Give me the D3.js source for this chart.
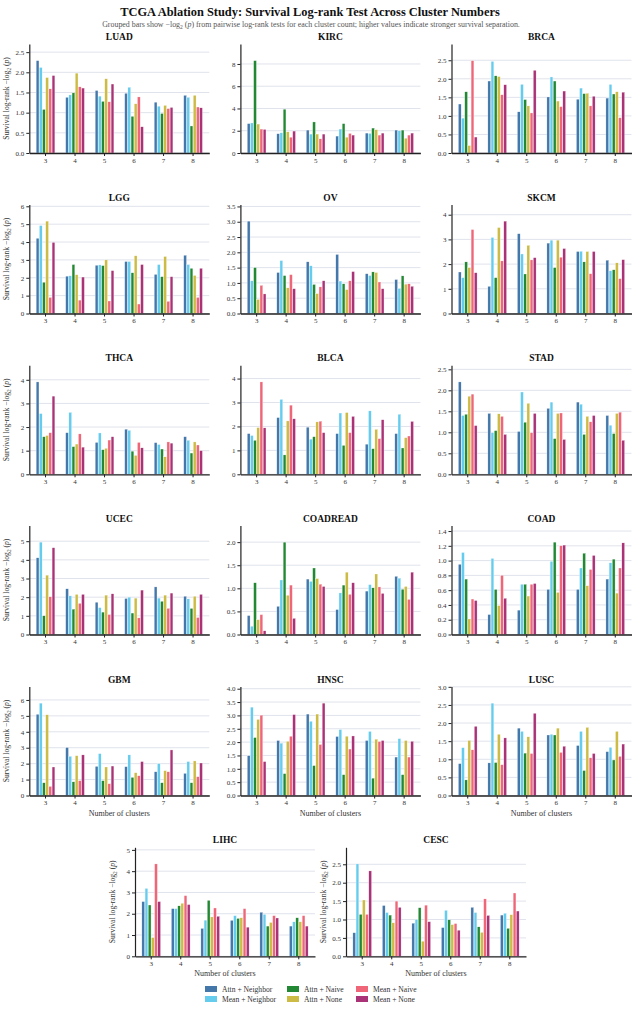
<!DOCTYPE html>
<html>
<head>
<meta charset="utf-8">
<script src="https://cdn.jsdelivr.net/npm/d3@7"></script>
<style>
  body { margin: 0; background: #fff; }
  text { font-family: "Liberation Serif", "Times New Roman", serif; }
  .axis path, .axis line { stroke: #222; }
  .axis text { fill: #333; font-size: 7px; font-family: "Liberation Serif", serif; }
</style>
</head>
<body>
<script>
var clusters = [3, 4, 5, 6, 7, 8];
var methods = ["Attn + Neighbor", "Mean + Neighbor", "Attn + Naive", "Attn + None", "Mean + Naive", "Mean + None"];
var colors = ["#4477AA", "#66CCEE", "#228833", "#CCBB44", "#EE6677", "#AA3377"];
var cancers = ["LUAD", "KIRC", "BRCA", "LGG", "OV", "SKCM", "THCA", "BLCA", "STAD",
               "UCEC", "COADREAD", "COAD", "GBM", "HNSC", "LUSC", "LIHC", "CESC"];

// one row per cluster count, one value per method (same order as methods)
var LUAD = [[2.29,2.12,1.08,1.87,1.59,1.92],[1.38,1.44,1.49,1.98,1.64,1.61],[1.55,1.41,1.28,1.84,1.27,1.71],
            [1.48,1.63,0.91,1.22,1.39,0.65],[1.26,1.16,0.98,1.18,1.10,1.13],[1.43,1.38,0.67,1.43,1.14,1.12]];
var KIRC = [[2.64,2.70,8.30,2.60,2.15,2.12],[1.73,1.82,3.94,1.90,1.42,1.97],[2.06,1.70,2.79,1.70,1.27,1.70],
            [1.52,2.15,2.64,1.42,1.76,1.61],[1.79,1.76,2.24,2.09,1.61,1.79],[2.06,2.00,2.06,1.33,1.61,1.79]];
var BRCA = [[1.32,0.94,1.65,0.20,2.49,0.43],[1.94,2.47,2.08,2.06,1.57,1.84],[1.11,1.85,1.44,1.27,1.08,2.23],
            [1.51,2.05,1.94,1.40,1.25,1.67],[1.45,1.75,1.60,1.61,1.27,1.53],[1.48,1.85,1.59,1.65,0.95,1.64]];
var LGG  = [[4.21,4.92,1.75,5.17,0.90,3.98],[2.09,2.11,2.74,2.17,0.75,2.04],[2.70,2.72,2.68,3.00,0.70,2.40],
            [2.91,2.91,2.28,3.23,0.53,2.74],[2.19,2.74,2.06,3.19,0.68,2.06],[3.26,2.74,2.53,2.13,0.90,2.53]];
var OV   = [[3.02,1.07,1.50,0.46,0.92,0.64],[1.34,1.73,1.24,0.84,1.27,0.81],[1.69,1.56,0.95,0.65,0.87,1.07],
            [1.93,1.06,0.97,0.78,1.07,1.37],[1.30,1.24,1.36,1.34,1.03,0.81],[1.11,0.82,1.23,0.96,0.97,0.89]];
var SKCM = [[1.68,1.45,2.09,1.86,3.40,1.65],[1.10,3.08,1.45,3.48,2.13,3.74],[3.23,2.41,1.60,2.76,2.17,2.26],
            [2.85,2.97,1.86,2.97,2.28,2.63],[2.51,2.52,2.09,2.51,1.61,2.51],[2.16,1.73,1.77,2.05,1.41,2.18]];
var THCA = [[3.91,2.57,1.59,1.64,1.76,3.31],[1.76,2.62,1.17,1.28,1.71,1.15],[1.35,1.75,1.04,1.10,1.45,1.59],
            [1.91,1.86,0.98,0.80,1.35,1.12],[1.34,1.26,1.07,0.74,1.37,1.32],[1.59,1.44,0.90,1.37,1.24,1.00]];
var BLCA = [[1.70,1.62,1.42,1.95,3.86,1.94],[2.37,3.13,0.81,2.23,2.89,2.32],[1.97,1.47,1.57,2.19,2.22,1.74],
            [1.70,2.56,1.21,2.58,1.74,2.42],[1.26,2.65,1.07,1.88,1.49,2.28],[1.70,2.51,1.10,1.53,1.60,2.21]];
var STAD = [[2.20,1.40,1.43,1.86,1.91,1.16],[1.45,0.99,1.04,1.44,1.38,0.95],[1.02,1.96,1.24,1.69,0.99,1.45],
            [1.57,1.72,0.85,1.45,1.46,0.83],[1.72,1.67,0.95,1.38,1.25,1.40],[1.40,1.17,0.97,1.45,1.48,0.81]];
var UCEC = [[4.11,4.95,1.00,3.18,2.02,4.65],[2.45,2.07,1.36,2.15,1.67,2.15],[1.73,1.44,1.20,2.11,1.07,2.18],
            [1.93,2.00,1.15,1.95,0.89,2.38],[2.55,1.95,1.78,2.11,1.40,2.22],[2.05,1.91,1.40,2.05,0.91,2.15]];
var COADREAD = [[0.41,0.18,1.12,0.32,0.43,0.08],[0.61,1.18,2.00,0.85,1.07,0.35],[1.20,1.15,1.44,1.21,1.09,1.04],
                [0.54,0.90,1.07,1.35,0.87,1.12],[0.94,1.08,1.01,1.31,1.03,0.89],[1.26,1.22,0.98,1.04,0.76,1.35]];
var COAD = [[0.95,1.11,0.75,0.21,0.48,0.46],[0.27,1.03,0.61,0.39,0.80,0.49],[0.33,0.68,0.68,0.52,0.68,0.69],
            [0.61,0.99,1.25,0.57,1.20,1.21],[0.61,0.90,1.10,0.66,0.88,1.07],[0.75,0.97,1.02,0.56,0.90,1.24]];
var GBM  = [[5.10,5.80,0.80,5.07,0.57,1.79],[3.01,2.46,0.86,2.50,0.93,2.55],[1.83,2.63,0.93,1.79,0.74,1.85],
            [1.81,2.55,1.14,1.43,1.24,2.13],[1.49,2.00,0.80,1.56,1.49,2.86],[1.39,2.13,0.80,2.17,1.18,2.04]];
var HNSC = [[1.49,3.31,2.17,2.85,3.01,1.27],[2.06,1.96,0.82,2.03,2.22,3.03],[3.05,2.78,1.12,3.05,1.91,3.46],
            [2.21,2.47,0.78,2.22,1.74,2.23],[2.06,2.40,0.65,2.11,2.02,2.06],[1.44,2.13,0.78,2.06,1.44,2.03]];
var LUSC = [[0.88,1.32,0.43,1.52,1.26,1.91],[0.90,2.55,0.91,1.69,0.85,1.59],[1.86,1.77,1.17,1.62,1.16,2.27],
            [1.67,1.69,1.67,1.86,1.19,1.36],[1.38,1.77,0.69,1.88,1.04,1.16],[1.21,1.33,0.98,1.77,1.08,1.42]];
var LIHC = [[2.57,3.19,2.41,0.88,4.34,2.57],[2.24,2.24,2.37,2.49,2.85,2.43],[1.31,1.70,2.63,1.85,2.27,1.88],
            [1.69,1.91,1.78,1.81,2.24,1.37],[2.07,1.97,1.42,1.59,1.91,1.80],[1.42,1.62,1.81,1.62,1.91,1.42]];
var CESC = [[0.64,2.51,1.14,1.53,1.14,2.32],[1.38,1.19,1.12,0.91,1.50,1.33],[0.90,1.00,1.32,0.41,1.39,0.94],
            [0.78,1.25,0.99,0.86,0.89,0.71],[1.33,1.19,0.80,0.65,1.56,1.11],[1.12,1.17,0.76,1.13,1.72,1.23]];

var values = {LUAD: LUAD, KIRC: KIRC, BRCA: BRCA, LGG: LGG, OV: OV, SKCM: SKCM, THCA: THCA, BLCA: BLCA,
              STAD: STAD, UCEC: UCEC, COADREAD: COADREAD, COAD: COAD, GBM: GBM, HNSC: HNSC, LUSC: LUSC,
              LIHC: LIHC, CESC: CESC};

var W = 637, H = 1035;
var pw = 180, ph = 109;
var colLeft = [29.3, 240.4, 451.5];
var lastLeft = [135, 346];
var rowBottom = [153, 313.5, 474.3, 634.5, 795.5, 956.3];

var svg = d3.select("body").append("svg")
    .attr("width", W)
    .attr("height", H);

svg.append("text")
    .attr("x", 310).attr("y", 16)
    .attr("text-anchor", "middle")
    .style("font-size", "12.4px").style("font-weight", "bold").attr("fill", "#111")
    .text("TCGA Ablation Study: Survival Log-rank Test Across Cluster Numbers");

// -log2(p) label with subscript and italic p
function logLabel(t, before, after) {
    t.append("tspan").text(before + "\u2212log");
    t.append("tspan").attr("dy", 2).style("font-size", "0.7em").text("2");
    t.append("tspan").attr("dy", -2).text(" (");
    t.append("tspan").style("font-style", "italic").text("p");
    t.append("tspan").text(")" + after);
}

var sub = svg.append("text")
    .attr("x", 311).attr("y", 27)
    .attr("text-anchor", "middle")
    .style("font-size", "7.9px").attr("fill", "#555");
logLabel(sub, "Grouped bars show ", " from pairwise log-rank tests for each cluster count; higher values indicate stronger survival separation.");

cancers.forEach(function(name, i) {
    var row = Math.floor(i / 3);
    var left = i < 15 ? colLeft[i % 3] : lastLeft[i - 15];
    var bottom = rowBottom[row];
    var data = values[name];
    var ymax = d3.max(data, function(d) { return d3.max(d); }) * 1.18;

    var g = svg.append("g").attr("transform", "translate(" + left + "," + (bottom - ph) + ")");

    var x0 = d3.scaleBand().domain(clusters).range([0, pw]).paddingInner(0).paddingOuter(0.05);
    var x1 = d3.scaleBand().domain(d3.range(methods.length)).range([0, x0.bandwidth() * 0.66]).padding(0.12);
    var y = d3.scaleLinear().domain([0, ymax]).range([ph, 0]);

    g.selectAll("line.grid")
        .data(y.ticks(6))
        .enter().append("line")
        .attr("class", "grid")
        .attr("x1", 0).attr("x2", pw)
        .attr("y1", function(d) { return y(d); })
        .attr("y2", function(d) { return y(d); })
        .attr("stroke", "#e0e3ec").attr("stroke-width", 1);

    var off = x0.bandwidth() * 0.17;
    var groups = g.selectAll("g.grp")
        .data(data)
        .enter().append("g")
        .attr("class", "grp")
        .attr("transform", function(d, j) { return "translate(" + (x0(clusters[j]) + off) + ",0)"; });

    groups.selectAll("rect")
        .data(function(d) { return d; })
        .enter().append("rect")
        .attr("x", function(d, k) { return x1(k); })
        .attr("y", function(d) { return y(d); })
        .attr("width", x1.bandwidth())
        .attr("height", function(d) { return ph - y(d); })
        .attr("fill", function(d, k) { return colors[k]; })
        .attr("stroke", "#fff").attr("stroke-width", 0.3);

    g.append("g")
        .attr("class", "axis")
        .call(d3.axisLeft(y).ticks(6).tickSizeInner(3).tickSizeOuter(0).tickPadding(2))
        .attr("font-family", null)
        .selectAll("path").attr("stroke-width", 1.2);

    g.append("g")
        .attr("class", "axis")
        .attr("transform", "translate(0," + ph + ")")
        .call(d3.axisBottom(x0).tickSizeInner(3).tickSizeOuter(0).tickPadding(2))
        .attr("font-family", null)
        .selectAll("path").attr("stroke-width", 1.3);

    g.append("text")
        .attr("x", pw / 2).attr("y", -4)
        .attr("text-anchor", "middle")
        .style("font-size", "9.5px").style("font-weight", "bold").attr("fill", "#111")
        .text(name);

    if (i % 3 === 0 || i >= 15) {
        var yl = g.append("text")
            .attr("transform", "translate(-20," + (ph / 2) + ") rotate(-90)")
            .attr("text-anchor", "middle")
            .style("font-size", "7.6px").attr("fill", "#333");
        logLabel(yl, "Survival log-rank ", "");
    }
    if (row >= 4) {
        g.append("text")
            .attr("x", pw / 2).attr("y", ph + 20)
            .attr("text-anchor", "middle")
            .style("font-size", "8px").attr("fill", "#333")
            .text("Number of clusters");
    }
});

// legend: 3 columns x 2 rows, filled column-wise
var legX = [205, 287, 356];
var legend = svg.append("g");
methods.forEach(function(m, k) {
    var cx = legX[Math.floor(k / 2)], cy = 986 + (k % 2) * 10;
    legend.append("rect")
        .attr("x", cx).attr("y", cy)
        .attr("width", 12).attr("height", 6)
        .attr("fill", colors[k]);
    legend.append("text")
        .attr("x", cx + 17).attr("y", cy + 5.5)
        .style("font-size", "7.6px").attr("fill", "#333")
        .text(m);
});
</script>
</body>
</html>
